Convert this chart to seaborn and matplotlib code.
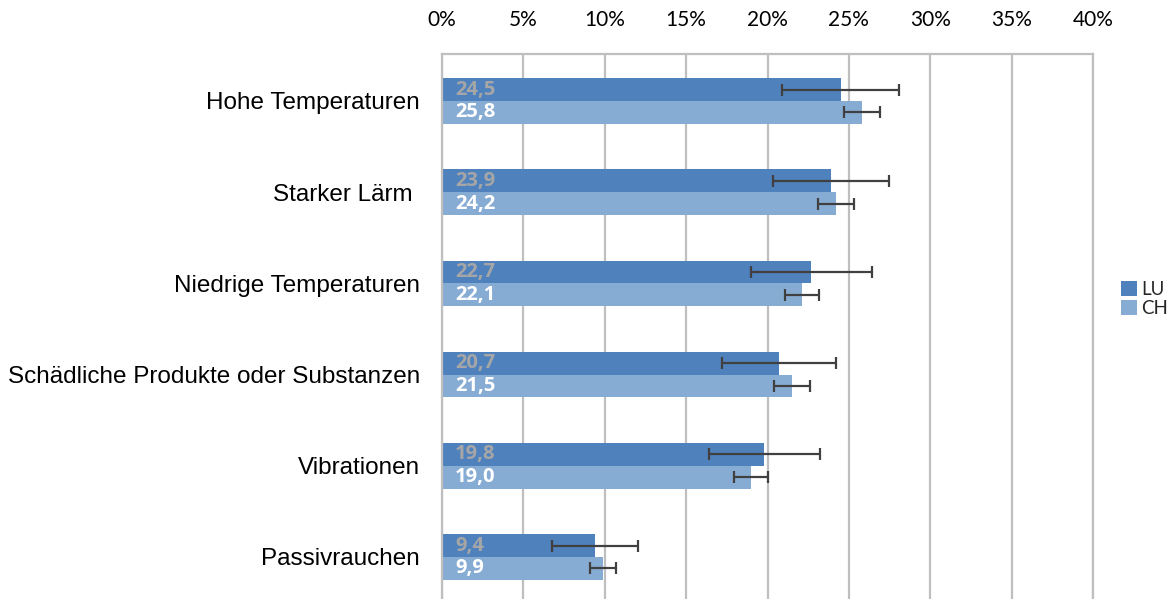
import matplotlib
matplotlib.use("Agg")
import matplotlib.pyplot as plt
import pandas as pd
import seaborn as sns
from matplotlib.ticker import FixedLocator, FuncFormatter

# Exposure categories (top to bottom) and the two regions compared
categories = [
    "Hohe Temperaturen",
    "Starker Lärm ",
    "Niedrige Temperaturen",
    "Schädliche Produkte oder Substanzen",
    "Vibrationen",
    "Passivrauchen",
]
series = ["LU", "CH"]

# Shares in percent with half-width of the confidence interval
lu_values = [24.5, 23.9, 22.7, 20.7, 19.8, 9.4]
ch_values = [25.8, 24.2, 22.1, 21.5, 19.0, 9.9]
lu_errors = [3.6, 3.55, 3.7, 3.5, 3.4, 2.65]
ch_errors = [1.1, 1.1, 1.05, 1.1, 1.05, 0.8]

x_ticks = [0, 5, 10, 15, 20, 25, 30, 35, 40]

LU_COLOR = "#4F81BD"
CH_COLOR = "#87ACD4"
GRID_COLOR = "#BFBFBF"
ERR_COLOR = "#404040"

df = pd.DataFrame({
    "category": categories * 2,
    "series": ["LU"] * len(categories) + ["CH"] * len(categories),
    "value": lu_values + ch_values,
})
errors = {"LU": lu_errors, "CH": ch_errors}
values = {"LU": lu_values, "CH": ch_values}

sns.set_theme(style="white")
plt.rcParams["font.family"] = ["Liberation Sans", "DejaVu Sans"]

W, H = 1175, 599
fig = plt.figure(figsize=(W / 100, H / 100), dpi=100)
ax_left, ax_right, ax_top = 442, 1093, 54
ax = fig.add_axes([ax_left / W, 0, (ax_right - ax_left) / W, (H - ax_top) / H])

sns.barplot(
    data=df, y="category", x="value", hue="series",
    order=categories, hue_order=series,
    palette=[LU_COLOR, CH_COLOR], saturation=1,
    width=0.5, errorbar=None, linewidth=0, orient="h", ax=ax,
)

# Confidence intervals and value labels on each bar
for container, name in zip(ax.containers, series):
    ys = [p.get_y() + p.get_height() / 2 for p in container.patches]
    ax.errorbar(values[name], ys, xerr=errors[name], fmt="none",
                ecolor=ERR_COLOR, elinewidth=1.6, capsize=4.3,
                capthick=1.6, zorder=4)
    txt_color = "#A6A6A6" if name == "LU" else "white"
    for v, y in zip(values[name], ys):
        ax.annotate(f"{v:.1f}".replace(".", ","), xy=(0, y),
                    xytext=(9.5, 0), textcoords="offset points",
                    ha="left", va="center", color=txt_color,
                    fontsize=14.5, fontweight="bold", family="Open Sans",
                    zorder=5)

ax.set_xlim(0, 40)
ax.set_ylim(5.461, -0.515)
ax.xaxis.tick_top()
ax.xaxis.set_major_locator(FixedLocator(x_ticks))
ax.xaxis.set_major_formatter(FuncFormatter(lambda x, _: f"{int(x)}%"))
ax.grid(axis="x", color=GRID_COLOR, linewidth=1.6)
ax.grid(axis="y", visible=False)
ax.set_axisbelow(True)
ax.set_xlabel("")
ax.set_ylabel("")
ax.tick_params(axis="x", length=0, pad=17, labelsize=15, labelcolor="black")
ax.tick_params(axis="y", length=0, pad=16, labelsize=17.5, labelcolor="black")
for lbl in ax.get_xticklabels():
    lbl.set_family("Lato")

for side in ["left", "top", "right"]:
    ax.spines[side].set_visible(True)
    ax.spines[side].set_color(GRID_COLOR)
    ax.spines[side].set_linewidth(1.6)
ax.spines["bottom"].set_visible(False)

sns.move_legend(
    ax, "center left",
    bbox_to_anchor=(1121 / W, 1 - 299 / H), bbox_transform=fig.transFigure,
    frameon=False, title=None, borderpad=0, borderaxespad=0,
    handlelength=0.85, handleheight=0.85, handletextpad=0.25,
    labelspacing=0.15, prop={"family": "Lato", "size": 13.5},
)

fig.savefig("out.png", dpi=100)
